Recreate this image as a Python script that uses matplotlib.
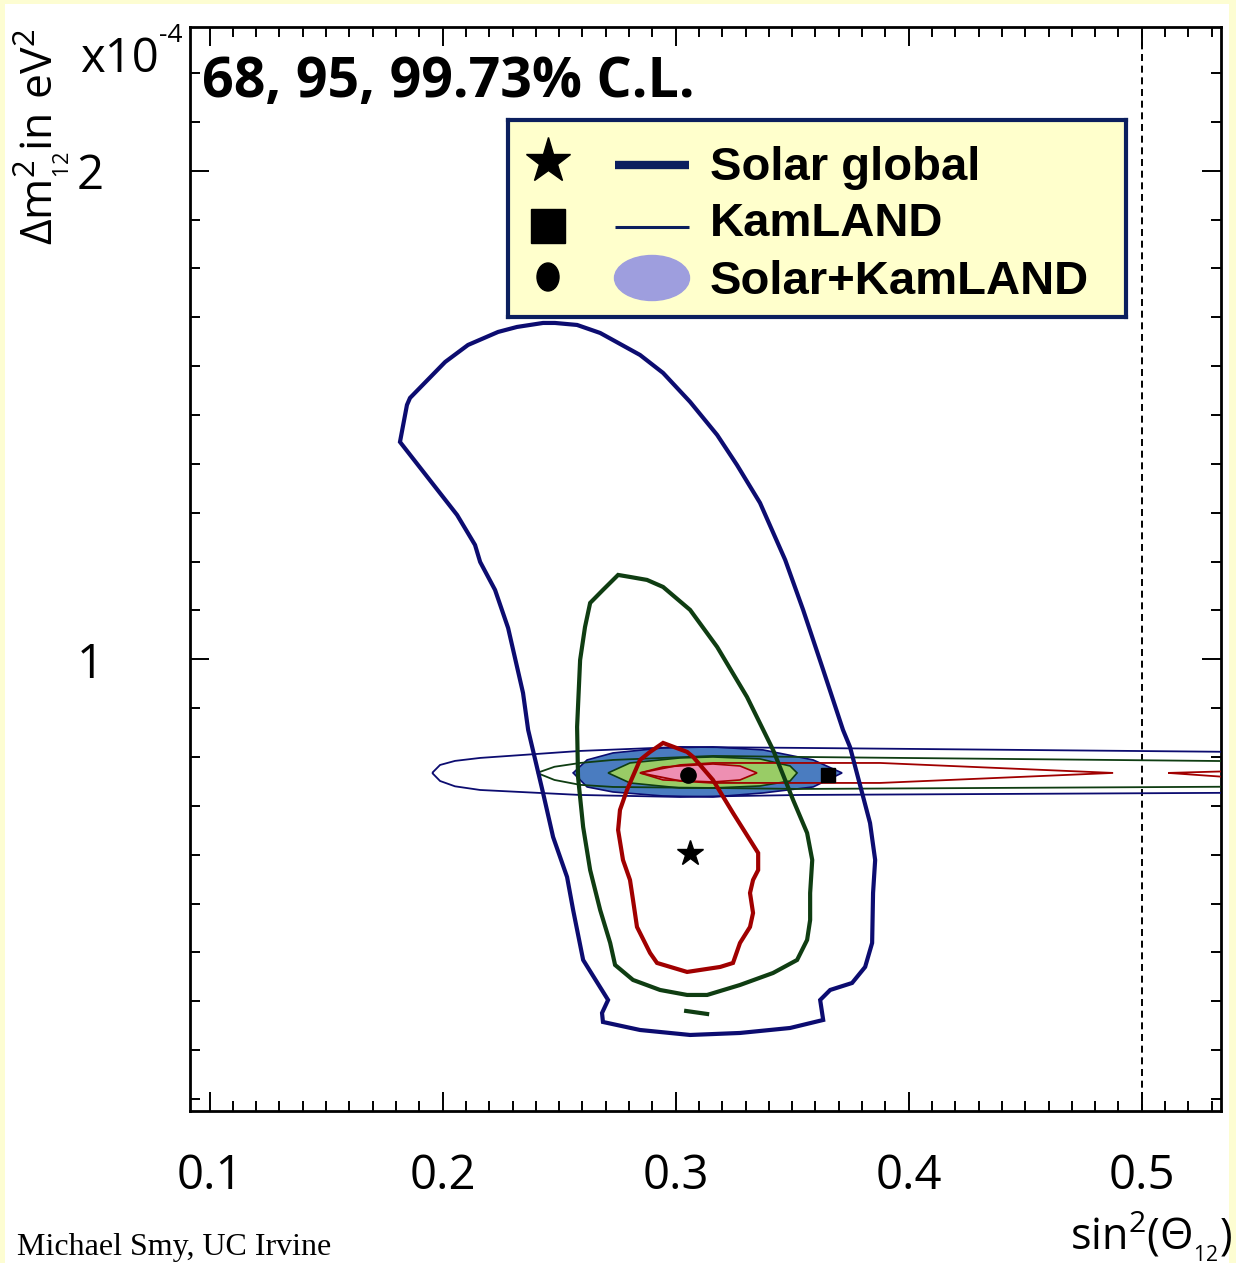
import matplotlib

matplotlib.use("Agg")
import matplotlib.pyplot as plt  # noqa: E402
from matplotlib.patches import Ellipse, Rectangle  # noqa: E402
from matplotlib.ticker import FixedLocator, MultipleLocator  # noqa: E402

W, H, DPI = 1236, 1263, 100

plt.rcParams["font.family"] = ["Open Sans", "DejaVu Sans"]
plt.rcParams["mathtext.fontset"] = "custom"
plt.rcParams["mathtext.rm"] = "Open Sans"
plt.rcParams["mathtext.it"] = "Open Sans:italic"
plt.rcParams["mathtext.bf"] = "Open Sans:bold"

NAVY = "#0c0c70"
DKGREEN = "#0f3d12"
DKRED = "#a00000"

# ---- data: sin^2(theta12) vs dm^2_12 [1e-4 eV^2] ----
# solar global, 99.73% C.L.
sol997_x = [0.2684, 0.2710, 0.2603, 0.2560, 0.2534, 0.2474, 0.2431, 0.2367, 0.2345, 0.2281,
            0.2225, 0.2161, 0.2139, 0.2062, 0.1817, 0.1847, 0.1860, 0.2011, 0.2109, 0.2238,
            0.2319, 0.2431, 0.2482, 0.2577, 0.2676, 0.2847, 0.2946, 0.3062, 0.3178, 0.3263,
            0.3362, 0.3470, 0.3547, 0.3633, 0.3718, 0.3748, 0.3834, 0.3856, 0.3847, 0.3843,
            0.3813, 0.3757, 0.3663, 0.3620, 0.3633, 0.3491, 0.3276, 0.3062, 0.2847, 0.2688]
sol997_y = [0.2761, 0.3027, 0.3846, 0.4869, 0.5544, 0.6363, 0.7264, 0.8554, 0.9311, 1.0641,
            1.1419, 1.1992, 1.2340, 1.2954, 1.4448, 1.5205, 1.5348, 1.6085, 1.6433, 1.6699,
            1.6801, 1.6883, 1.6883, 1.6842, 1.6678, 1.6228, 1.5860, 1.5267, 1.4591, 1.3977,
            1.3200, 1.2033, 1.1010, 0.9782, 0.8554, 0.8206, 0.6649, 0.5892, 0.5217, 0.4194,
            0.3703, 0.3375, 0.3232, 0.3027, 0.2618, 0.2454, 0.2352, 0.2311, 0.2413, 0.2577]

# solar global, 95% C.L.
sol95_x = [0.2753, 0.2804, 0.2877, 0.2946, 0.3062, 0.3178, 0.3306, 0.3418, 0.3504, 0.3564,
           0.3586, 0.3577, 0.3577, 0.3564, 0.3521, 0.3418, 0.3276, 0.3135, 0.3049, 0.2933,
           0.2817, 0.2740, 0.2719, 0.2676, 0.2633, 0.2603, 0.2581, 0.2577, 0.2590, 0.2611,
           0.2633, 0.2688]
sol95_y = [1.1726, 1.1685, 1.1624, 1.1480, 1.1010, 1.0252, 0.9229, 0.8145, 0.7120, 0.6445,
           0.5892, 0.5217, 0.4665, 0.4256, 0.3846, 0.3580, 0.3334, 0.3130, 0.3130, 0.3232,
           0.3437, 0.3744, 0.4194, 0.4869, 0.5687, 0.6567, 0.7592, 0.8615, 0.9986, 1.0661,
           1.1153, 1.1419]
sol95_island_x = [0.3045, 0.3135]
sol95_island_y = [0.2802, 0.2741]

# solar global, 68% C.L.
sol68_x = [0.2946, 0.3049, 0.3075, 0.3160, 0.3246, 0.3319, 0.3354, 0.3354, 0.3332, 0.3319,
           0.3332, 0.3319, 0.3276, 0.3246, 0.3191, 0.3049, 0.2920, 0.2890, 0.2834, 0.2817,
           0.2804, 0.2774, 0.2753, 0.2761, 0.2791, 0.2847, 0.2890]
sol68_y = [0.8288, 0.8104, 0.8001, 0.7530, 0.6854, 0.6301, 0.6035, 0.5687, 0.5483, 0.5217,
           0.4808, 0.4522, 0.4194, 0.3785, 0.3703, 0.3601, 0.3785, 0.3990, 0.4522, 0.5074,
           0.5483, 0.5892, 0.6506, 0.6916, 0.7325, 0.7940, 0.8104]

# KamLAND alone (thin), 99.73 / 95 / 68 % C.L.
kl997_x = [0.1955, 0.1989, 0.2053, 0.2161, 0.2590, 0.3019, 0.3534, 0.5500,
           0.5500, 0.3534, 0.3019, 0.2590, 0.2161, 0.2053, 0.1989]
kl997_y = [0.7674, 0.7837, 0.7920, 0.7981, 0.8124, 0.8206, 0.8186, 0.8100,
           0.7270, 0.7223, 0.7182, 0.7223, 0.7325, 0.7400, 0.7509]
kl95_x = [0.2405, 0.2480, 0.2590, 0.2731, 0.3160, 0.3534, 0.5500,
          0.5500, 0.3534, 0.3160, 0.2731, 0.2590, 0.2480]
kl95_y = [0.7674, 0.7800, 0.7878, 0.7940, 0.8022, 0.8001, 0.7910,
          0.7395, 0.7346, 0.7366, 0.7387, 0.7430, 0.7530]
kl68a_x = [0.2847, 0.3019, 0.3160, 0.3877, 0.4877, 0.3877, 0.3160, 0.3019]
kl68a_y = [0.7674, 0.7837, 0.7878, 0.7878, 0.7674, 0.7469, 0.7469, 0.7510]
kl68b_x = [0.5113, 0.5500, 0.5500]
kl68b_y = [0.7674, 0.7725, 0.7545]

# Solar + KamLAND (filled), 99.73 / 95 / 68 % C.L.
comb997_x = [0.2560, 0.2620, 0.2731, 0.2946, 0.3160, 0.3375, 0.3590, 0.3714,
             0.3590, 0.3375, 0.3160, 0.2946, 0.2731, 0.2620]
comb997_y = [0.7674, 0.7940, 0.8083, 0.8186, 0.8206, 0.8145, 0.7940, 0.7674,
             0.7387, 0.7264, 0.7182, 0.7202, 0.7284, 0.7387]
comb95_x = [0.2710, 0.2804, 0.3019, 0.3160, 0.3362, 0.3491, 0.3521,
            0.3491, 0.3362, 0.3160, 0.3019, 0.2804]
comb95_y = [0.7674, 0.7878, 0.7981, 0.8001, 0.7960, 0.7816, 0.7674,
            0.7509, 0.7407, 0.7366, 0.7366, 0.7469]
comb68_x = [0.2847, 0.2946, 0.3160, 0.3276, 0.3349, 0.3276, 0.3160, 0.2946]
comb68_y = [0.7674, 0.7796, 0.7857, 0.7816, 0.7674, 0.7530, 0.7489, 0.7530]

# best fit points
best_solar = (0.3062, 0.6035)
best_kamland = (0.3655, 0.7633)
best_comb = (0.3053, 0.7633)

x_major = [0.1, 0.2, 0.3, 0.4, 0.5]
x_labels = ["0.1", "0.2", "0.3", "0.4", "0.5"]
y_major = [1, 2]
y_labels = ["1", "2"]
legend_labels = ["Solar global", "KamLAND", "Solar+KamLAND"]


def fx(px):
    return px / W


def fy(py):
    return 1 - py / H


fig = plt.figure(figsize=(W / DPI, H / DPI), dpi=DPI, facecolor="#fdfdd2")
fig.add_artist(Rectangle((fx(5), 0), fx(1229) - fx(5), fy(4), transform=fig.transFigure,
                         facecolor="white", edgecolor="none", zorder=-10))

ax = fig.add_axes([fx(190), fy(1111), fx(1221) - fx(190), fy(27) - fy(1111)])
ax.set_xlim(0.0916, 0.534)
ax.set_ylim(0.0755, 2.294)

# filled combined regions
ax.fill(comb997_x, comb997_y, facecolor="#4a7cc0", edgecolor=NAVY, lw=1.2, zorder=2)
ax.fill(comb95_x, comb95_y, facecolor="#99cc66", edgecolor=DKGREEN, lw=1.2, zorder=2)
ax.fill(comb68_x, comb68_y, facecolor="#ee8fb2", edgecolor=DKRED, lw=1.2, zorder=2)

# KamLAND only (thin)
ax.fill(kl997_x, kl997_y, fill=False, edgecolor=NAVY, lw=1.3, zorder=3)
ax.fill(kl95_x, kl95_y, fill=False, edgecolor=DKGREEN, lw=1.3, zorder=3)
ax.fill(kl68a_x, kl68a_y, fill=False, edgecolor=DKRED, lw=1.3, zorder=3)
ax.fill(kl68b_x, kl68b_y, fill=False, edgecolor=DKRED, lw=1.3, zorder=3)

# solar global (thick)
ax.fill(sol997_x, sol997_y, fill=False, edgecolor=NAVY, lw=3.0, zorder=4)
ax.fill(sol95_x, sol95_y, fill=False, edgecolor=DKGREEN, lw=3.0, zorder=4)
ax.plot(sol95_island_x, sol95_island_y, color=DKGREEN, lw=3.0, zorder=4)
ax.fill(sol68_x, sol68_y, fill=False, edgecolor=DKRED, lw=3.0, zorder=4)

ax.plot(*best_solar, marker="*", ms=19, color="black", zorder=5)
ax.plot(*best_kamland, marker="s", ms=10, color="black", zorder=5)
ax.plot(*best_comb, marker="o", ms=11, color="black", zorder=5)

ax.axvline(0.5, color="black", lw=1.4, ls=(0, (3.6, 2.4)), zorder=1)

ax.xaxis.set_major_locator(FixedLocator(x_major))
ax.set_xticklabels(x_labels)
ax.xaxis.set_minor_locator(MultipleLocator(0.01))
ax.yaxis.set_major_locator(FixedLocator(y_major))
ax.set_yticklabels(y_labels)
ax.yaxis.set_minor_locator(MultipleLocator(0.1))
ax.tick_params(which="both", direction="in", top=True, right=True, width=1.4, labelsize=34)
ax.tick_params(which="major", length=14)
ax.tick_params(which="minor", length=7)
ax.tick_params(axis="x", which="major", pad=30)
ax.tick_params(axis="y", which="major", pad=62)
for s in ax.spines.values():
    s.set_linewidth(2.0)

# texts
fig.text(fx(202), fy(97), "68, 95, 99.73% C.L.", fontsize=40, fontweight="bold", va="baseline")
fig.text(fx(80), fy(72), "x10", fontsize=34, va="baseline")
fig.text(fx(159), fy(42), "-4", fontsize=19, va="baseline")
fig.text(fx(42), fy(137), r"$\Delta\mathrm{m}^2_{_{12}}\mathrm{in\ eV}^2$", fontsize=32,
         rotation=90, ha="center", va="center")
fig.text(fx(1232), fy(1250), r"sin$^2$($\Theta_{_{12}}$)", fontsize=31, ha="right", va="baseline")
fig.text(fx(17), fy(1255), "Michael Smy, UC Irvine", fontsize=23,
         family="Liberation Serif", va="baseline")

# legend box, laid out in pixel units
lax = fig.add_axes([fx(508), fy(317), fx(1126) - fx(508), fy(120) - fy(317)])
lax.set_xlim(508, 1126)
lax.set_ylim(317, 120)
lax.set_facecolor("#ffffcc")
lax.set_xticks([])
lax.set_yticks([])
for s in lax.spines.values():
    s.set_color("#0b1f5e")
    s.set_linewidth(3)
lax.plot(548, 161, marker="*", ms=34, color="black")
lax.plot([615, 689], [165, 165], color="#0b1f5e", lw=6, solid_capstyle="butt")
lax.plot(548, 226, marker="s", ms=25, color="black")
lax.plot([615, 689], [227, 227], color="#0b1f5e", lw=2.2, solid_capstyle="butt")
lax.add_patch(Ellipse((548, 277), 22, 28, color="black"))
lax.add_patch(Ellipse((652, 278), 75, 45, color="#9e9ede"))
for lab, base in zip(legend_labels, [180, 236, 294]):
    lax.text(710, base, lab, fontsize=34, fontweight="bold", family="Liberation Sans",
             va="baseline")

fig.savefig("out.png", dpi=DPI, facecolor=fig.get_facecolor())
